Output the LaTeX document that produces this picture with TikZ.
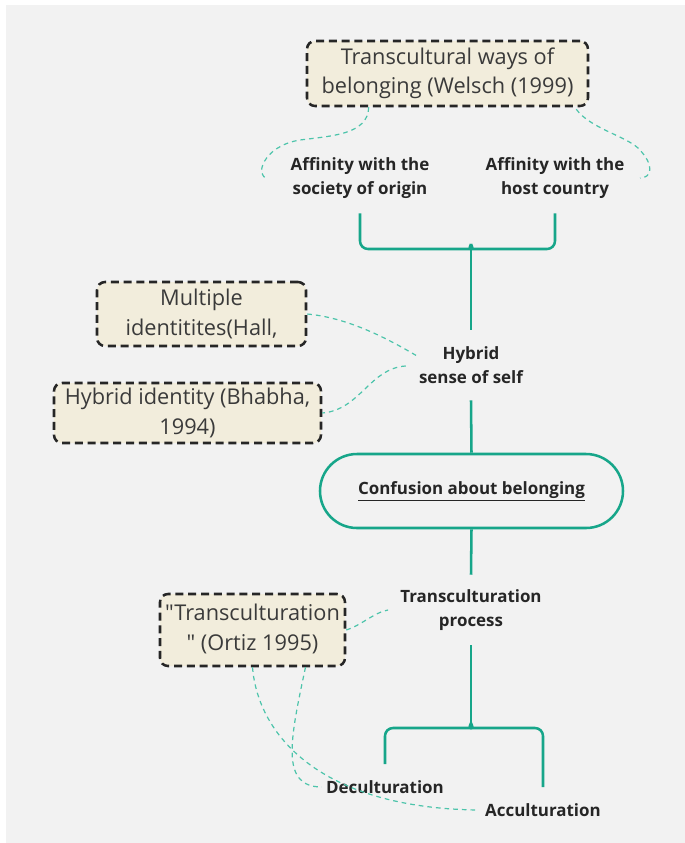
\documentclass[tikz,border=0pt]{standalone}
\usepackage{fontspec}
\setmainfont{Open Sans}[Ligatures=TeXOff]
\usetikzlibrary{calc}
\definecolor{bg}{HTML}{F2F2F2}
\definecolor{boxfill}{HTML}{F2EDDC}
\definecolor{teal1}{HTML}{17A68A}
\definecolor{teal2}{HTML}{4DC4AB}
\definecolor{ink}{HTML}{262626}
\definecolor{boxink}{HTML}{3A3A3A}
\begin{document}
\begin{tikzpicture}[x=0.75pt,y=-0.75pt,
  refbox/.style={draw=ink, line width=1.9pt, dash pattern=on 6pt off 3.6pt,
    rounded corners=6pt, fill=boxfill, inner sep=0pt, align=center,
    text=boxink, font=\fontsize{16.3}{22}\selectfont},
  lbl/.style={align=center, text=ink, inner sep=0pt, minimum height=52.5pt,
    font=\fontsize{12.7}{18}\selectfont\bfseries},
  lbl1/.style={lbl, minimum height=33.75pt},
  link/.style={draw=teal1, line width=1.9pt},
  dlink/.style={draw=teal2, line width=0.9pt, dash pattern=on 3.5pt off 3pt}]
\useasboundingbox (0,0) rectangle (685,843);
\fill[bg] (6,5) rectangle (685,843);
%
\node[refbox, minimum width=210.75pt, minimum height=48.75pt] at (447.5,73.5) (welsch) {Transcultural ways of\\belonging (Welsch (1999)};
\node[lbl] at (360,178) (orig) {Affinity with the\\society of origin};
\node[lbl] at (555,178) (host) {Affinity with the\\host country};
\node[refbox, minimum width=156.75pt, minimum height=48pt] at (201.5,314) (hall) {Multiple\\identitites(Hall,};
\node[refbox, minimum width=200.25pt, minimum height=45pt] at (187.5,413) (bhabha) {Hybrid identity (Bhabha,\\1994)};
\node[lbl] at (471,365) (self) {Hybrid\\sense of self};
\node[draw=teal1, line width=1.9pt, fill=bg, rounded corners=27.75pt, minimum width=227.25pt, minimum height=55.5pt, text=ink, font=\fontsize{12.7}{18}\selectfont\bfseries] at (471.5,491) (conf) {\underline{Confusion about belonging}};
\node[lbl] at (471,610) (trans) {Transculturation\\process};
\node[refbox, minimum width=138.75pt, minimum height=54pt] at (252.5,630) (ortiz) {"Transculturation\\" (Ortiz 1995)\rule[-4pt]{0pt}{1pt}};
\node[lbl1] at (385,787) (decu) {Deculturation};
\node[lbl1] at (543,810) (accu) {Acculturation};
%
\coordinate (j1) at (471,244);
\coordinate (j2) at (471,723);
\coordinate (oL) at (268,178);
\coordinate (hR) at (640,178);
%
\draw[link, rounded corners=6pt] (orig.south) |- (464,249) .. controls (469,249) .. (j1);
\draw[link, rounded corners=6pt] (host.south) |- (478,249) .. controls (473,249) .. (j1);
\draw[link] (j1) -- (self.north);
\draw[link] (self.south) -- (conf.north);
\draw[link] (conf.south) -- (trans.north);
\draw[link] (trans.south) -- (j2);
\draw[link, rounded corners=6pt] (decu.north) |- (464,728) .. controls (469,728) .. (j2);
\draw[link, rounded corners=6pt] (accu.north) |- (478,728) .. controls (473,728) .. (j2);
%
\draw[dlink] ($(welsch.south west)+(63,0)$) .. controls (368,135) and (330,136) .. (300,140) .. controls (262,146) and (254,178) .. (oL);
\draw[dlink] ($(welsch.south east)+(-13,2)$) .. controls (590,128) and (625,136) .. (638,148) .. controls (655,165) and (652,178) .. (hR);
\draw[dlink] (hall.east) .. controls (350,318) and (390,340) .. ($(self.west)+(0,-8)$);
\draw[dlink] ($(self.west)+(-13,1)$) .. controls (370,368) and (360,410) .. (bhabha.east);
\draw[dlink] (ortiz.east) .. controls (360,626) and (375,612) .. ($(trans.west)+(-12,0)$);
\draw[dlink] ($(ortiz.south)+(53,0)$) .. controls (290,740) and (280,787) .. ($(decu.west)+(-4,0)$);
\draw[dlink] (ortiz.south) .. controls (258,735) and (320,808) .. ($(accu.west)+(-7,0)$);
\end{tikzpicture}
\end{document}
